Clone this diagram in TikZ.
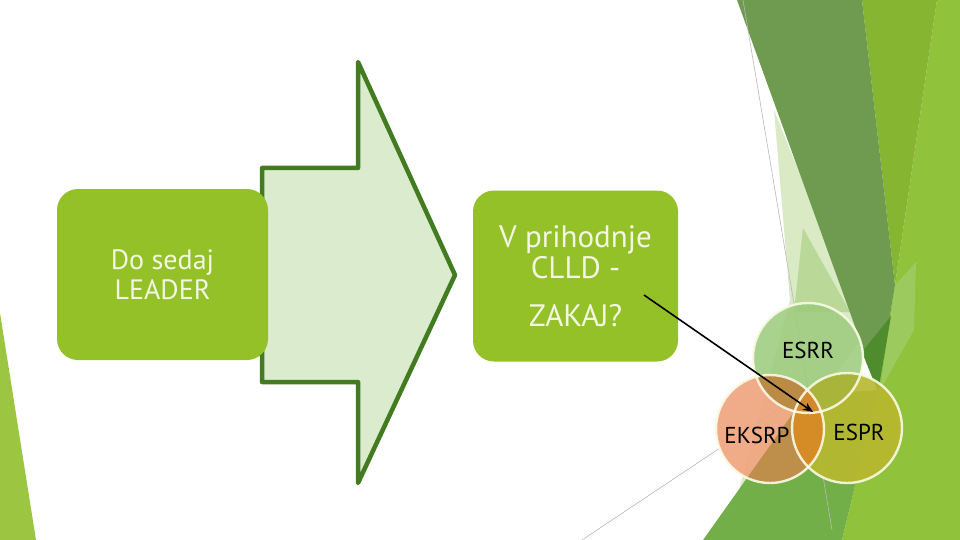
\documentclass[tikz,border=0pt]{standalone}
\usepackage{fontspec}
\setmainfont{PT Sans}
\usetikzlibrary{arrows.meta}
\definecolor{boxlime}{HTML}{93C127}
\definecolor{txtcream}{HTML}{F4F6E4}
\definecolor{arrfill}{HTML}{DBEBCE}
\definecolor{arrline}{HTML}{437C20}
\definecolor{bglime}{HTML}{9CC641}
\definecolor{bgpale}{HTML}{D9EAC4}
\definecolor{bglight}{HTML}{BAD898}
\definecolor{bgdark}{HTML}{6E9B4F}
\definecolor{bgdarker}{HTML}{4E8C2E}
\definecolor{bgmid}{HTML}{86B532}
\definecolor{bgbright}{HTML}{90C23B}
\definecolor{bgsoft}{HTML}{9DCA5E}
\definecolor{bgmed}{HTML}{72AF48}
\definecolor{esrrc}{HTML}{9CCB7C}
\definecolor{eksrpc}{HTML}{EFA57F}
\definecolor{esprc}{HTML}{B8B82E}
\definecolor{ovAB}{HTML}{BB8A44}
\definecolor{ovBC}{HTML}{D68C26}
\definecolor{ovAC}{HTML}{A9B43A}
\definecolor{ovABC}{HTML}{D2882C}
\definecolor{eksbrown}{HTML}{B58A3E}
\definecolor{rimcream}{HTML}{FAFAE6}
\tikzset{
  greenbox/.style={fill=boxlime, rounded corners=21pt, minimum width=211pt,
    minimum height=171pt, inner sep=0pt, align=center, text=txtcream},
  venn/.style={circle, inner sep=0pt, minimum size=110pt},
  vennrim/.style={draw=rimcream, line width=2.4pt, draw opacity=0.9},
  vlabel/.style={font=\fontsize{23}{23}\selectfont, text=black, inner sep=0pt},
  thinline/.style={draw=gray!55, line width=0.6pt},
  blockarrow/.style={fill=arrfill, draw=arrline, line width=4.5pt, line join=round},
  connector/.style={draw=black, line width=1.6pt, -{Stealth[length=10pt,width=8pt]}}
}
\begin{document}
\begin{tikzpicture}[x=1pt,y=-1pt]
\useasboundingbox (0,0) rectangle (960,540);
\fill[white] (0,0) rectangle (960,540);
% background facets
\fill[bglime] (0,313) -- (0,540) -- (36,540) -- cycle;
\fill[bgbright] (895,285) -- (937,0) -- (960,0) -- (960,540) -- (842,540) -- (878,390) -- cycle;
\fill[bgpale] (774,110) -- (865,335) -- (735,505) -- (790,300) -- cycle;
\fill[bglight] (803,228) -- (850,312) -- (794,312) -- cycle;
\fill[bgmid] (862,0) -- (937,0) -- (895,285) -- cycle;
\fill[bgsoft] (895,285) -- (916,262) -- (914,330) -- (880,390) -- cycle;
\fill[bgdark] (737,0) -- (862,0) -- (895,285) -- (878,390) -- cycle;
\fill[bgdarker] (891,316) -- (862,352) -- (878,392) -- cycle;
\fill[bgmed] (703,540) -- (842,540) -- (878,390) -- (806,395) -- cycle;
\draw[thinline] (743,0) -- (832,530);
\draw[thinline] (582,540) -- (795,398);
% block arrow
\draw[blockarrow] (262,168) -- (358,168) -- (358,62) -- (455,275) -- (358,483)
  -- (358,382) -- (262,382) -- cycle;
% boxes
\node[greenbox, font=\fontsize{28}{30}\selectfont] (lbox) at (162.5,274.5)
  {Do sedaj\\LEADER};
\node[greenbox, minimum width=205pt, font=\fontsize{31}{31}\selectfont] (rbox) at (575.5,276)
  {V prihodnje\\CLLD -\\[17pt]ZAKAJ?};
% venn circles
\node[venn, fill=esrrc, fill opacity=0.85] (esrr) at (808,358) {};
\node[venn, minimum size=108pt, fill=eksrpc, fill opacity=0.92] (eksrp) at (770,429) {};
\node[venn, fill=esprc, fill opacity=0.9] (espr) at (847,428) {};
\begin{scope}
  \clip (770,429) circle (54);
  \fill[eksbrown, opacity=0.8] (703,540) -- (842,540) -- (878,390) -- (806,395) -- cycle;
  \fill[ovAB] (808,358) circle (55);
  \fill[ovBC] (847,428) circle (55);
\end{scope}
\begin{scope}
  \clip (808,358) circle (55);
  \fill[ovAC] (847,428) circle (55);
  \clip (770,429) circle (54);
  \fill[ovABC] (847,428) circle (55);
\end{scope}
\draw[vennrim] (esrr.center) circle (55);
\draw[vennrim] (eksrp.center) circle (54);
\draw[vennrim] (espr.center) circle (55);
\node[vlabel] (lesrr) at (808,350) {ESRR};
\node[vlabel] (leksrp) at (757,435) {EKSRP};
\node[vlabel] (lespr) at (859,432) {ESPR};
% connector
\coordinate (cstart) at (644,295);
\coordinate (cend) at (813,412);
\draw[connector] (cstart) -- (cend);
\end{tikzpicture}
\end{document}
